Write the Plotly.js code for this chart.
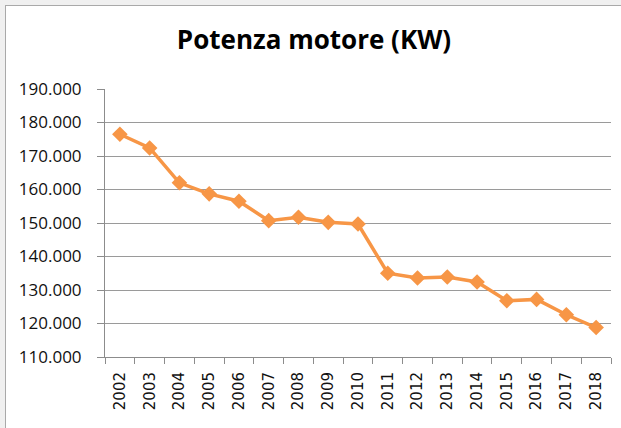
<!DOCTYPE html>
<html>
<head>
<meta charset="utf-8">
<script src="https://cdn.plot.ly/plotly-3.0.1.min.js"></script>
<style>
  html, body { margin: 0; padding: 0; background: #f0f0f0; overflow: hidden; }
  #chart { position: absolute; left: 5px; top: 5px; width: 616px; height: 423px;
           border-left: 1px solid #a9a9a9; border-top: 1px solid #a9a9a9; background: #fff; }
</style>
</head>
<body>
<div id="chart"></div>
<script>
const years = ["2002","2003","2004","2005","2006","2007","2008","2009","2010",
               "2011","2012","2013","2014","2015","2016","2017","2018"];
const power = [176.5, 172.4, 162.0, 158.7, 156.5, 150.7, 151.7, 150.2, 149.7,
               135.0, 133.6, 133.9, 132.4, 126.8, 127.2, 122.6, 118.8];
const yTicks = [110, 120, 130, 140, 150, 160, 170, 180, 190];
const titleText = "Potenza motore (KW)";

const trace = {
  x: years, y: power, type: "scatter", mode: "lines+markers",
  line: { color: "#f79646", width: 3.5 },
  marker: { symbol: "diamond", size: 12, color: "#f79646" },
  hoverinfo: "x+y"
};

const layout = {
  width: 616, height: 423,
  margin: { l: 99, r: 11, t: 83, b: 72, pad: 0 },
  paper_bgcolor: "#ffffff", plot_bgcolor: "#ffffff",
  showlegend: false,
  title: { text: "<b>" + titleText + "</b>", x: 0.5, xanchor: "center", y: 0.92, yanchor: "middle",
           font: { family: "Open Sans", size: 26, color: "#000" } },
  xaxis: {
    type: "category", range: [-0.5, 16.5], tickson: "boundaries",
    ticks: "outside", ticklen: 6, tickcolor: "#8c8c8c", tickwidth: 1,
    showline: true, linecolor: "#8c8c8c", linewidth: 1,
    showgrid: false, zeroline: false,
    tickangle: -90, ticklabelstandoff: 8,
    tickfont: { family: "DejaVu Sans", size: 15, color: "#111" }
  },
  yaxis: {
    range: [110, 190], tickvals: yTicks, tickformat: ".3f",
    ticks: "outside", ticklen: 7, tickcolor: "#8c8c8c", tickwidth: 1,
    showline: true, linecolor: "#8c8c8c", linewidth: 1,
    showgrid: true, gridcolor: "#9a9a9a", gridwidth: 1, zeroline: false,
    ticklabelstandoff: 12,
    tickfont: { family: "Open Sans", size: 17, color: "#111" }
  }
};

Plotly.newPlot("chart", [trace], layout, { displayModeBar: false, staticPlot: true });
</script>
</body>
</html>
